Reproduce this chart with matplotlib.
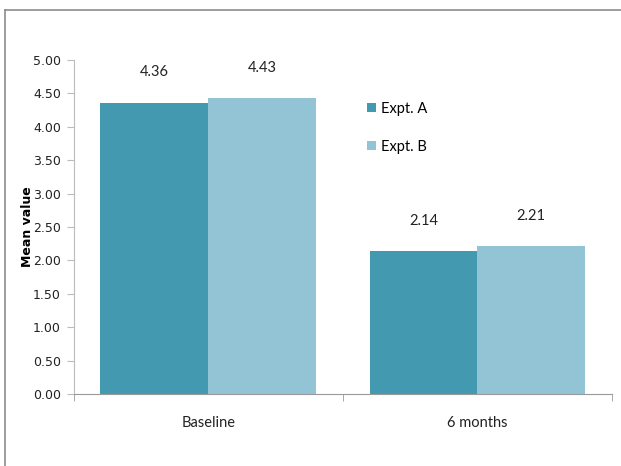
import matplotlib.pyplot as plt
import numpy as np
from matplotlib.lines import Line2D

categories = ['Baseline', '6 months']
series = ['Expt. A', 'Expt. B']
expt_a = [4.36, 2.14]
expt_b = [4.43, 2.21]
colors = ['#4399B0', '#93C4D5']
yticks = [0, 0.5, 1, 1.5, 2, 2.5, 3, 3.5, 4, 4.5, 5]

label_font = {'family': 'Lato', 'size': 10.5}

fig = plt.figure(figsize=(6.21, 4.66), dpi=100)
ax = fig.add_axes([0.1184, 0.1545, 0.8671, 0.7167])

x = np.arange(len(categories))
width = 0.4
for i, (vals, name) in enumerate(zip([expt_a, expt_b], series)):
    pos = x - width / 2 + i * width
    bars = ax.bar(pos, vals, width, color=colors[i], label=name)
    for b, v in zip(bars, vals):
        ax.annotate('%.2f' % v, (b.get_x() + b.get_width() / 2, v),
                    xytext=(0, 22), textcoords='offset points',
                    ha='center', va='center', color='#222222', **label_font)

ax.set_xlim(-0.5, len(categories) - 0.5)
ax.set_ylim(0, 5)
ax.set_yticks(yticks)
ax.set_yticklabels(['%.2f' % t for t in yticks], fontsize=9, color='#222222')
ax.set_xticks(x)
ax.set_xticklabels(categories, color='#222222', **label_font)
ax.set_xticks(np.arange(len(categories) + 1) - 0.5, minor=True)
ax.tick_params(axis='x', which='major', length=0, pad=16)
ax.tick_params(axis='x', which='minor', length=5, color='#999999')
ax.tick_params(axis='y', length=5, color='#bbbbbb', pad=4)

for s in ['top', 'right']:
    ax.spines[s].set_visible(False)
ax.spines['left'].set_color('#bbbbbb')
ax.spines['bottom'].set_color('#999999')

ax.set_ylabel('Mean value', fontsize=9, fontweight='bold', labelpad=-1)

ax.legend(loc='upper left', bbox_to_anchor=(0.52, 0.915), frameon=False,
          handlelength=0.65, handleheight=0.65, handletextpad=0.3,
          labelspacing=1.65, prop=label_font)

# outer frame, top and left edges only
fig.add_artist(Line2D([5 / 621, 1], [1 - 10 / 466, 1 - 10 / 466],
                      transform=fig.transFigure, color='#8c8c8c', lw=1.2))
fig.add_artist(Line2D([5 / 621, 5 / 621], [0, 1 - 10 / 466],
                      transform=fig.transFigure, color='#8c8c8c', lw=1.2))

fig.savefig('out.png', dpi=100)
